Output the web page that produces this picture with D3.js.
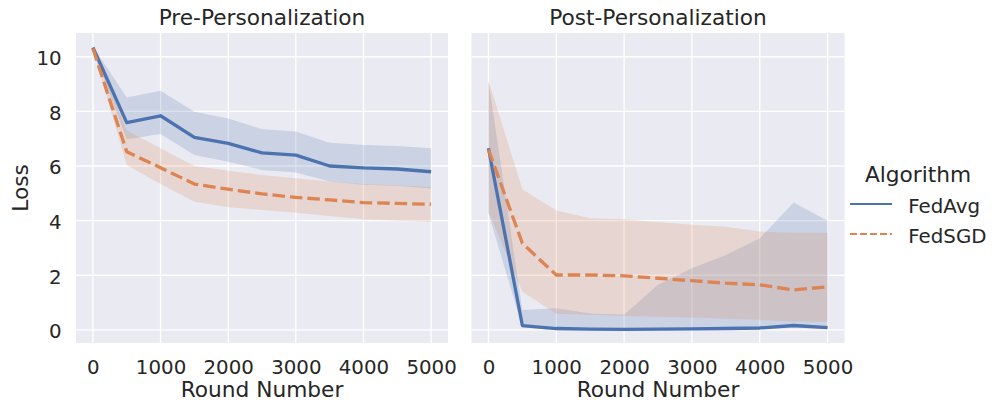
<!DOCTYPE html>
<html><head><meta charset="utf-8">
<script src="https://cdn.jsdelivr.net/npm/d3@7"></script>
<style>
body{margin:0;background:#fff;}
text{font-family:"DejaVu Sans",sans-serif;fill:#262626;}
</style></head>
<body><svg id="c" width="992" height="404"></svg>
<script>
const rounds = [0,500,1000,1500,2000,2500,3000,3500,4000,4500,5000];
const xTicks = [0,1000,2000,3000,4000,5000];
const yTicks = [0,2,4,6,8,10];
const panelTitles = ["Pre-Personalization","Post-Personalization"];
const algorithms = ["FedAvg","FedSGD"];

const preAvg   = [10.34,7.59,7.84,7.05,6.83,6.48,6.40,6.00,5.93,5.89,5.79];
const preAvgLo = [10.30,6.98,7.17,6.40,6.16,5.85,5.76,5.43,5.31,5.28,5.18];
const preAvgHi = [10.38,8.51,8.76,7.99,7.74,7.35,7.26,6.85,6.77,6.73,6.65];
const preSGD   = [10.30,6.52,5.94,5.34,5.15,4.98,4.85,4.76,4.66,4.63,4.60];
const preSGDLo = [10.26,6.04,5.34,4.69,4.49,4.39,4.29,4.17,4.05,4.00,3.96];
const preSGDHi = [10.34,7.30,6.65,6.00,5.83,5.67,5.55,5.43,5.34,5.30,5.22];

const postAvg   = [6.65,0.16,0.05,0.03,0.02,0.03,0.04,0.05,0.07,0.16,0.08];
const postAvgLo = [4.27,0.10,-0.01,-0.02,-0.03,-0.02,-0.01,0.00,0.02,0.08,0.03];
const postAvgHi = [9.10,0.73,0.79,0.60,0.55,1.65,2.26,2.74,3.35,4.66,4.00];
const postSGD   = [6.60,3.17,2.01,2.01,1.98,1.89,1.80,1.71,1.65,1.46,1.58];
const postSGDLo = [4.33,1.40,0.59,0.55,0.51,0.48,0.45,0.41,0.37,0.31,0.30];
const postSGDHi = [9.13,5.15,4.37,4.09,4.05,3.95,3.85,3.78,3.60,3.56,3.56];

const colors = {FedAvg:"#4c72b0", FedSGD:"#dd8452"};

const panels = [
  {title: panelTitles[0], left: 76, right: 448, series: [
    {name:"FedAvg", y:preAvg, lo:preAvgLo, hi:preAvgHi},
    {name:"FedSGD", y:preSGD, lo:preSGDLo, hi:preSGDHi}]},
  {title: panelTitles[1], left: 471.5, right: 844.5, series: [
    {name:"FedAvg", y:postAvg, lo:postAvgLo, hi:postAvgHi},
    {name:"FedSGD", y:postSGD, lo:postSGDLo, hi:postSGDHi}]}
];
const plotTop = 33, plotBottom = 343;
const svg = d3.select("#c");

panels.forEach((p, pi) => {
  const x = d3.scaleLinear().domain([-250,5250]).range([p.left, p.right]);
  const y = d3.scaleLinear().domain([-0.48,10.87]).range([plotBottom, plotTop]);
  const g = svg.append("g");
  g.append("rect").attr("x",p.left).attr("y",plotTop).attr("width",p.right-p.left).attr("height",plotBottom-plotTop).attr("fill","#eaeaf2");
  g.selectAll(".gx").data(xTicks).join("line").attr("x1",d=>x(d)).attr("x2",d=>x(d)).attr("y1",plotTop).attr("y2",plotBottom).attr("stroke","#fff").attr("stroke-width",1.3);
  g.selectAll(".gy").data(yTicks).join("line").attr("y1",d=>y(d)).attr("y2",d=>y(d)).attr("x1",p.left).attr("x2",p.right).attr("stroke","#fff").attr("stroke-width",1.3);

  const xa = g.append("g").attr("transform",`translate(0,${plotBottom})`)
    .call(d3.axisBottom(x).tickValues(xTicks).tickSize(0).tickFormat(d3.format("d")));
  xa.select(".domain").remove();
  xa.selectAll("text").attr("y",30.5).attr("dy",0).attr("font-size","19.8px").attr("fill","#262626").attr("font-family","DejaVu Sans");

  if (pi === 0) {
    const ya = g.append("g").attr("transform",`translate(${p.left},0)`)
      .call(d3.axisLeft(y).tickValues(yTicks).tickSize(0));
    ya.select(".domain").remove();
    ya.selectAll("text").attr("x",-14.3).attr("dy","0.4em").attr("font-size","19.8px").attr("fill","#262626").attr("font-family","DejaVu Sans");
    svg.append("text").attr("transform","translate(28,188) rotate(-90)").attr("text-anchor","middle")
      .attr("font-size","21.7px").text("Loss");
  }

  const clipId = "clip"+pi;
  svg.append("clipPath").attr("id",clipId).append("rect").attr("x",p.left).attr("y",plotTop).attr("width",p.right-p.left).attr("height",plotBottom-plotTop);
  const pg = g.append("g").attr("clip-path",`url(#${clipId})`);
  const area = d3.area().x((d,i)=>x(rounds[i])).y0(d=>y(d[0])).y1(d=>y(d[1]));
  p.series.forEach(s => {
    pg.append("path").datum(s.lo.map((v,i)=>[v,s.hi[i]])).attr("d",area)
      .attr("fill",colors[s.name]).attr("fill-opacity",0.2).attr("stroke","none");
  });
  const line = d3.line().x((d,i)=>x(rounds[i])).y(d=>y(d));
  p.series.forEach(s => {
    pg.append("path").datum(s.y).attr("d",line).attr("fill","none")
      .attr("stroke",colors[s.name]).attr("stroke-width",3.3)
      .attr("stroke-linejoin","round")
      .attr("stroke-dasharray", s.name==="FedSGD" ? "12.5,5" : null);
  });

  svg.append("text").attr("x",(p.left+p.right)/2).attr("y",25.3).attr("text-anchor","middle")
    .attr("font-size","21.7px").text(p.title);
  svg.append("text").attr("x",(p.left+p.right)/2).attr("y",397.3).attr("text-anchor","middle")
    .attr("font-size","21.7px").text("Round Number");
});

// legend
const lg = svg.append("g");
lg.append("text").attr("x",918).attr("y",181.7).attr("text-anchor","middle").attr("font-size","21.7px").text("Algorithm");
algorithms.forEach((a,i) => {
  const yy = 204 + i*30;
  lg.append("line").attr("x1",850).attr("x2",892).attr("y1",yy).attr("y2",yy)
    .attr("stroke",colors[a]).attr("stroke-width",1.8)
    .attr("stroke-dasharray", a==="FedSGD" ? "7,3" : null);
  lg.append("text").attr("x",908.3).attr("y",yy+9.3).attr("font-size","19.8px").text(a);
});
</script></body></html>
